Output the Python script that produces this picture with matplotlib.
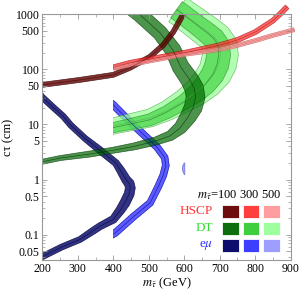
import numpy as np
import matplotlib
matplotlib.use("Agg")
import matplotlib.pyplot as plt
from matplotlib.patches import Rectangle

# HSCP curves: c tau along stau mass
hscp100_m = [180, 200, 306, 400, 447, 503, 541, 569, 588, 597, 605]
hscp100_ct = [47, 52, 64, 79, 106, 167, 275, 473, 780, 1000, 1250]
hscp300_m = [400, 447, 503, 600, 700, 750, 800, 850, 870, 890]
hscp300_ct = [108, 130, 152, 197, 272, 338, 470, 760, 1000, 1350]
hscp500_m = [400, 500, 600, 700, 750, 800, 850, 900, 910]
hscp500_ct = [104, 140, 185, 228, 270, 330, 410, 500, 520]

# displaced track curves
dt100_m = [150, 200, 250, 334, 400, 460, 520, 560, 589, 611, 625, 632, 628, 615, 590, 568, 532, 473, 450]
dt100_ct = [1.7, 2.1, 2.45, 2.9, 3.4, 4.0, 5.0, 6.2, 8.7, 13.7, 20, 31, 45, 65, 110, 224, 453, 1000, 1300]
dt300_m = [390, 399, 450, 503, 550, 596, 630, 658, 680, 692, 697, 695, 683, 665, 632, 595, 578]
dt300_ct = [8.3, 8.7, 10.2, 12.1, 16.5, 24.5, 35, 52, 80, 120, 182, 275, 360, 453, 659, 1000, 1200]
dt500_m = [390, 399, 450, 503, 550, 596, 632, 662, 685, 697, 702, 700, 688, 670, 636, 598, 582]
dt500_ct = [8.9, 9.3, 11, 13, 17.5, 26, 37, 55, 84, 125, 185, 275, 360, 453, 659, 1000, 1200]

# e mu curves
em100_m = [185, 200, 255, 306, 345, 363, 400, 420, 433, 445, 448, 445, 436, 420, 407, 385, 360, 320, 280, 259, 232, 200, 185]
em100_ct = [0.035, 0.040, 0.06, 0.082, 0.12, 0.143, 0.19, 0.28, 0.38, 0.55, 0.71, 0.85, 1.0, 1.5, 2.0, 2.6, 3.5, 5.6, 9.7, 14, 20, 31, 40]
em300_m = [390, 405, 456, 504, 527, 541, 548, 545, 523, 456, 400, 385]
em300_ct = [0.095, 0.107, 0.21, 0.38, 0.75, 1.2, 1.8, 2.5, 3.9, 9.8, 22.6, 27]
em500_m = [601, 599, 598, 599, 601]
em500_ct = [1.23, 1.4, 1.6, 1.8, 2.0]

mass_labels = ["100", "300", "500"]
row_labels = ["HSCP", "DT", "e$\\mu$"]
row_colors = ["#ff3333", "#33dd33", "#3333ff"]
swatches = [
    ["#660000", "#ff3333", "#ff9999"],
    ["#006600", "#33cc33", "#99ff99"],
    ["#000066", "#3333ff", "#9999ff"],
]

plt.rcParams["font.family"] = ["Liberation Serif", "DejaVu Serif"]
plt.rcParams["mathtext.fontset"] = "stix"

fig = plt.figure(figsize=(3.0, 2.95), dpi=100)
ax = fig.add_axes([0.141, 0.119, 0.828, 0.8335])
ax.set_yscale("log")
ax.set_xlim(200, 900)
ax.set_ylim(0.035, 1000)


def band(m, ct, width, fill, edge, alpha, clip_min=None, nlines=1):
    # band of given pixel width around the centre curve, drawn in data coords
    pts = ax.transData.transform(np.column_stack([m, ct]))
    d = np.gradient(pts, axis=0)
    n = np.column_stack([-d[:, 1], d[:, 0]])
    n /= np.hypot(n[:, 0], n[:, 1])[:, None]
    half = np.broadcast_to(np.asarray(width, float), (len(m),)) / 2
    up = pts + n * half[:, None]
    lo = pts - n * half[:, None]
    poly = ax.transData.inverted().transform(np.vstack([up, lo[::-1]]))
    patch = ax.fill(poly[:, 0], poly[:, 1], fc=fill, ec=edge, lw=0.5, alpha=alpha)[0]
    arts = [patch]
    for k in range(nlines):
        f = (k + 1) / (nlines + 1) * 2 - 1
        line = ax.transData.inverted().transform(pts + n * (half * f)[:, None])
        arts += ax.plot(line[:, 0], line[:, 1], color=edge, lw=0.5, alpha=0.7)
    if clip_min is not None:
        r = Rectangle((clip_min, 1e-4), 2000, 1e6, transform=ax.transData)
        for a in arts:
            a.set_clip_path(r)


band(em100_m, em100_ct, [6, 6, 6, 6, 7, 7, 8, 9, 10, 10, 10, 10, 9, 8, 7, 7, 7, 6, 6, 6, 6, 6, 6],
     "#000066", "#000033", 0.8)
band(em300_m, em300_ct, 7, "#3333ff", "#000099", 0.8, clip_min=400)
band(em500_m, em500_ct, [0.5, 2, 2.5, 2, 0.5], "#9999ff", "#6666cc", 0.9, nlines=0)

band(dt500_m, dt500_ct, [16, 16, 17, 18, 20, 23, 27, 31, 34, 36, 36, 35, 33, 32, 31, 30, 30],
     "#99ff99", "#55aa55", 0.75, clip_min=400)
band(dt300_m, dt300_ct, [10, 10, 11, 12, 13, 15, 18, 21, 23, 24, 24, 23, 22, 21, 20, 20, 20],
     "#33cc33", "#1a7a1a", 0.6, clip_min=400)
band(dt100_m, dt100_ct, [5, 5, 5, 6, 6, 7, 8, 10, 13, 16, 18, 19, 19, 18, 17, 16, 15, 15, 15],
     "#006600", "#003300", 0.7)

band(hscp100_m, hscp100_ct, 5, "#660000", "#330000", 0.8)
band(hscp300_m, hscp300_ct, 5, "#ff3333", "#aa1111", 0.75, clip_min=400)
band(hscp500_m, hscp500_ct, 4, "#ff9999", "#cc6666", 0.8, clip_min=400, nlines=2)

# legend block
ax.text(0.96, 0.252, "$m_{\\tilde{\\tau}}$=" + " ".join(mass_labels), transform=ax.transAxes,
        ha="right", va="baseline", fontsize=9)
col_x = [0.757, 0.840, 0.924]
row_y = [0.197, 0.128, 0.057]
for i in range(3):
    ax.text(0.687, row_y[i], row_labels[i], transform=ax.transAxes, ha="right",
            va="center", fontsize=9.5, color=row_colors[i])
    for j in range(3):
        ax.add_patch(Rectangle((col_x[j] - 0.034, row_y[i] - 0.026), 0.068, 0.052,
                               transform=ax.transAxes, fc=swatches[i][j], ec="white",
                               lw=0.6, alpha=0.95))

ax.set_xticks([200, 300, 400, 500, 600, 700, 800, 900])
ax.set_xticks(np.arange(250, 900, 50), minor=True)
yt = [0.05, 0.1, 0.5, 1, 5, 10, 50, 100, 500, 1000]
ax.set_yticks(yt)
ax.set_yticklabels(["0.05", "0.1", "0.5", "1", "5", "10", "50", "100", "500", "1000"])
ax.tick_params(which="both", direction="in", top=True, right=True, labelsize=8.5, colors="#999999",
               labelcolor="black", pad=2)
ax.tick_params(which="major", length=3.5, width=0.6)
ax.tick_params(which="minor", length=2, width=0.5)
for s in ax.spines.values():
    s.set_color("#999999")
    s.set_linewidth(0.8)

ax.set_xlabel("$m_{\\tilde{\\tau}}$ (GeV)", fontsize=9, labelpad=1)
ax.set_ylabel("c\u03c4 (cm)", fontsize=9, labelpad=1)

fig.savefig("out.png", dpi=100)
